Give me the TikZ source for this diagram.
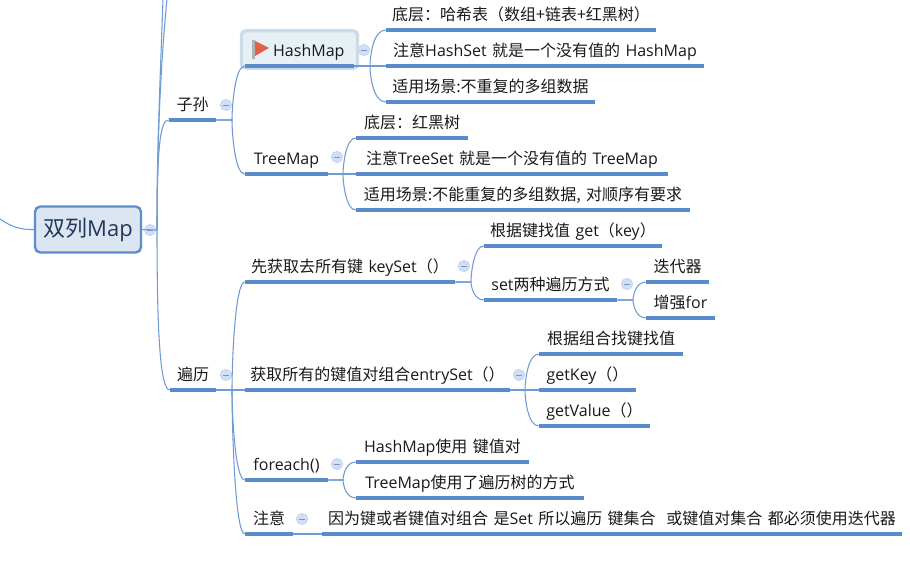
\documentclass[tikz,border=0pt]{standalone}
\usepackage{fontspec}
\setmainfont[WordSpace=1.5]{Noto Sans CJK SC}
\newfontfamily\latf{Open Sans}
\newcommand\la[1]{{\latf #1}}
\usetikzlibrary{calc}
\definecolor{ul}{HTML}{5A8CCB}
\definecolor{cn}{HTML}{6F9BD4}
\definecolor{rootfill}{HTML}{DCE6F2}
\definecolor{rootdraw}{HTML}{5A8DCC}
\definecolor{hmfill}{HTML}{E6F0F5}
\definecolor{hmdraw}{HTML}{CBDCE8}
\definecolor{roottext}{HTML}{23395B}
\definecolor{cfill}{HTML}{D0DEF6}
\definecolor{cdraw}{HTML}{C3D3EE}
\definecolor{cminus}{HTML}{7E95BC}
\definecolor{flagred}{HTML}{E0604A}
\tikzset{
  px/.style={x=0.75pt,y=-0.75pt},
  topic/.style={anchor=south,inner xsep=0pt,inner ysep=4.5pt,text height=10pt,text depth=2.5pt,font=\fontsize{12pt}{14pt}\selectfont,text=black!90},
  uline/.style={draw=ul,line width=2.6pt},
  conn/.style={draw=cn,line width=0.8pt},
  collapse/.style={circle,fill=cfill,draw=cdraw,line width=0.5pt,minimum size=8.5pt,inner sep=0pt,
    path picture={\draw[cminus,line width=0.6pt] ([xshift=-2pt]path picture bounding box.center) -- ([xshift=2pt]path picture bounding box.center);}},
  rootbox/.style={rectangle,rounded corners=4pt,fill=rootfill,draw=rootdraw,line width=1.8pt,minimum width=79.5pt,minimum height=34.5pt,inner sep=0pt,font=\fontsize{16.5pt}{20pt}\selectfont,text=roottext},
  hmbox/.style={rectangle,rounded corners=3pt,fill=hmfill,draw=hmdraw,line width=2.4pt,minimum width=87pt,minimum height=28pt,inner sep=0pt},
}
% \topic{name}{x1}{x2}{y}{text}
\newcommand\topic[5]{%
  \pgfmathsetmacro\tw{(#3-#2)*0.75}%
  \node[topic,minimum width=\tw pt] (#1) at ({(#2+#3)/2},#4) {#5};%
  \draw[uline] (#1.south west) -- (#1.south east);}
% \fork{parent}{forkx}{child}
\newcommand\fork[3]{%
  \coordinate (F) at (#1.south east -| #2,0);%
  \draw[conn] (#1.south east) -- (F) .. controls ($(F |- #3.south west)!0.75!(F)$) and ($(F |- #3.south west)+(3,0)$) .. (#3.south west);}
\newcommand\straight[2]{\draw[conn] (#1.south east) -- (#2.south west);}
\begin{document}
\begin{tikzpicture}[px]
\useasboundingbox (0,0) rectangle (910,574);
\clip (0,0) rectangle (910,574);
% highlight box
\node[hmbox] (hmb) at (299.5,49.5) {};
% level 2
\topic{zs}{169}{216}{120}{子孙}
\topic{bl}{170}{216}{390}{遍历}
\topic{hm}{245}{354}{66}{\hspace{14pt}\la{HashMap}}
\topic{tm}{245}{328}{174}{\la{TreeMap}}
\topic{ks}{245}{455}{282}{先获取去所有键 \la{keySet}（）}
\topic{es}{245}{510}{390}{获取所有的键值对组合\la{entrySet}（）}
\topic{fe}{245}{328}{480}{\la{foreach()}}
\topic{nt}{245}{293}{534}{注意}
% leaves
\topic{h1}{386}{656}{30}{底层：哈希表（数组+链表+红黑树）}
\topic{h2}{386}{704}{66}{注意\la{HashSet} 就是一个没有值的 \la{HashMap}}
\topic{h3}{386}{595}{102}{适用场景:不重复的多组数据}
\topic{t1}{356}{468}{138}{底层：红黑树}
\topic{t2}{356}{668}{174}{注意\la{TreeSet} 就是一个没有值的 \la{TreeMap}}
\topic{t3}{356}{690}{210}{适用场景:不能重复的多组数据, 对顺序有要求}
\topic{k1}{484}{662}{246}{根据键找值 \la{get}（\la{key}）}
\topic{k2}{484}{617}{300}{\la{set}两种遍历方式}
\topic{s1}{646}{709}{282}{迭代器}
\topic{s2}{646}{715}{318}{增强\la{for}}
\topic{e1}{539}{683}{354}{根据组合找键找值}
\topic{e2}{539}{636}{390}{\la{getKey}（）}
\topic{e3}{539}{650}{426}{\la{getValue}（）}
\topic{f1}{356}{529}{462}{\la{HashMap}使用 键值对}
\topic{f2}{356}{584}{498}{\la{TreeMap}使用了遍历树的方式}
\topic{n1}{322}{902}{534}{因为键或者键值对组合 是\la{Set} 所以遍历 键集合\ \ 或键值对集合 都必须使用迭代器}
% root
\node[rootbox] (root) at (88,229.5) {双列\la{Map}};
% collapse icons
\node[collapse] (c0) at (150,230) {};
\node[collapse] (c1) at (226,105) {};
\node[collapse] (c2) at (226,375) {};
\node[collapse] (c3) at (364,50) {};
\node[collapse] (c4) at (337,157) {};
\node[collapse] (c5) at (464,266) {};
\node[collapse] (c6) at (627,284) {};
\node[collapse] (c7) at (519,375) {};
\node[collapse] (c8) at (337,464) {};
\node[collapse] (c9) at (302,519) {};
% connectors from root
\coordinate (lft) at (0,219);
\coordinate (topa) at (163,-1);
\coordinate (topb) at (167,-1);
\coordinate (tr) at (157,230);
\draw[conn] (lft) .. controls (10,226) and (20,230) .. (root.west);
\draw[conn] (root.east) -- (tr);
\draw[conn] (tr) .. controls (157,140) and (161,120) .. (zs.south west);
\draw[conn] (tr) .. controls (157,330) and (160,390) .. (bl.south west);
\draw[conn] (tr) .. controls (157,140) and (161,60) .. (topa);
\draw[conn] (tr) .. controls (157,140) and (161,60) .. (topb);
% forks
\fork{zs}{232}{hm}\fork{zs}{232}{tm}
\fork{bl}{232}{ks}\straight{bl}{es}\fork{bl}{232}{fe}\fork{bl}{232}{nt}
\fork{hm}{370}{h1}\straight{hm}{h2}\fork{hm}{370}{h3}
\fork{tm}{343}{t1}\straight{tm}{t2}\fork{tm}{343}{t3}
\fork{ks}{471}{k1}\fork{ks}{471}{k2}
\fork{k2}{633}{s1}\fork{k2}{633}{s2}
\fork{es}{525}{e1}\straight{es}{e2}\fork{es}{525}{e3}
\fork{fe}{343}{f1}\fork{fe}{343}{f2}
\straight{nt}{n1}
% flag
\fill[black!30] (252,40) rectangle (255,59);
\fill[flagred] (255,41) -- (269,48) -- (255,56) -- cycle;
\end{tikzpicture}
\end{document}
